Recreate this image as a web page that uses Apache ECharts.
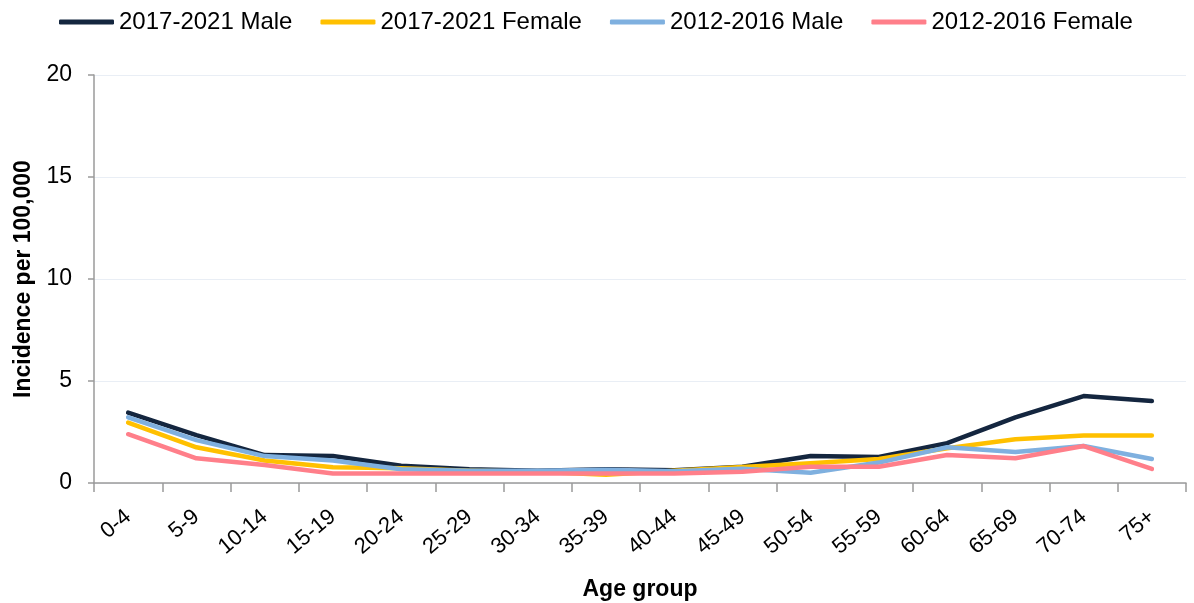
<!DOCTYPE html>
<html><head><meta charset="utf-8">
<script src="https://cdn.jsdelivr.net/npm/echarts@6/dist/echarts.min.js"></script>
<style>html,body{margin:0;padding:0;background:#fff}#c{width:1194px;height:603px}</style>
</head><body><div id="c"></div>
<script>
const categories = ['0-4','5-9','10-14','15-19','20-24','25-29','30-34','35-39','40-44','45-49','50-54','55-59','60-64','65-69','70-74','75+'];
const male2017 = [3.45,2.35,1.37,1.32,0.85,0.67,0.6,0.68,0.62,0.8,1.32,1.28,1.95,3.22,4.26,4.02];
const female2017 = [2.96,1.75,1.1,0.77,0.72,0.6,0.55,0.4,0.6,0.78,0.97,1.18,1.7,2.14,2.33,2.33];
const male2012 = [3.22,2.1,1.32,1.1,0.67,0.6,0.6,0.65,0.58,0.7,0.5,1.0,1.75,1.52,1.81,1.18];
const female2012 = [2.39,1.21,0.88,0.47,0.47,0.47,0.47,0.47,0.47,0.55,0.8,0.8,1.37,1.21,1.81,0.69];
const yTicks = [0,5,10,15,20];

const font = 'Liberation Sans';
const mk = (name, data, color) => ({
  name, type: 'line', data, symbol: 'none', smooth: false,
  lineStyle: {width: 4.5, color, cap: 'round', join: 'round'}, itemStyle: {color}
});
const chart = echarts.init(document.getElementById('c'));
chart.setOption({
  animation: false,
  textStyle: {fontFamily: font},
  legend: {
    top: 5, left: 54, itemWidth: 55, itemHeight: 5, itemGap: 28,
    icon: 'roundRect',
    textStyle: {fontSize: 24, color: '#000', fontFamily: font},
    data: ['2017-2021 Male','2017-2021 Female','2012-2016 Male','2012-2016 Female']
  },
  grid: {left: 94, right: 8, top: 75, bottom: 120, containLabel: false, outerBoundsMode: 'none'},
  xAxis: {
    type: 'category', data: categories, boundaryGap: true,
    name: 'Age group', nameLocation: 'middle', nameGap: 95,
    nameTextStyle: {fontSize: 23, fontWeight: 'bold', color: '#000', fontFamily: font},
    axisLine: {lineStyle: {color: '#9a9a9a', width: 1.5}},
    axisTick: {show: true, length: 9, lineStyle: {color: '#9a9a9a', width: 1.5}},
    axisLabel: {rotate: 40, fontSize: 22, color: '#000', margin: 31, fontFamily: font}
  },
  yAxis: {
    type: 'value', min: yTicks[0], max: yTicks[yTicks.length-1], interval: 5,
    name: 'Incidence per 100,000', nameLocation: 'middle', nameGap: 58,
    nameTextStyle: {fontSize: 23, fontWeight: 'bold', color: '#000', fontFamily: font},
    axisLine: {show: true, lineStyle: {color: '#9a9a9a', width: 1.5}},
    axisTick: {show: true, length: 6, lineStyle: {color: '#9a9a9a', width: 1.5}},
    axisLabel: {fontSize: 23, color: '#000', margin: 22, fontFamily: font},
    splitLine: {lineStyle: {color: '#e9eef5', width: 1}}
  },
  series: [
    mk('2017-2021 Male', male2017, '#14263f'),
    mk('2017-2021 Female', female2017, '#ffc000'),
    mk('2012-2016 Male', male2012, '#7fb0df'),
    mk('2012-2016 Female', female2012, '#ff7f8a')
  ]
});
</script></body></html>
